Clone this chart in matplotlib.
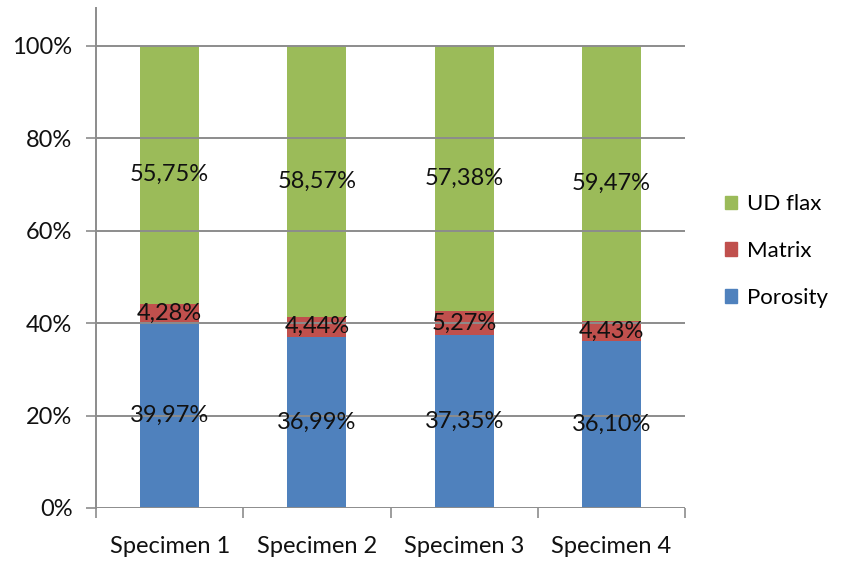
import matplotlib
matplotlib.use("Agg")
import matplotlib.pyplot as plt
from matplotlib.patches import Patch
import numpy as np

categories = ["Specimen 1", "Specimen 2", "Specimen 3", "Specimen 4"]
porosity = [39.97, 36.99, 37.35, 36.10]
matrix = [4.28, 4.44, 5.27, 4.43]
ud_flax = [55.75, 58.57, 57.38, 59.47]
series_names = ["Porosity", "Matrix", "UD flax"]
colors = ["#4F81BD", "#C0504D", "#9BBB59"]

plt.rcParams['font.family'] = ['Lato', 'DejaVu Sans']

fig = plt.figure(figsize=(8.41, 5.61), dpi=100)
ax = fig.add_axes([96/841, 1-508/561, (685-96)/841, 500/561])

FS = 17
TXT = "#111111"

x = np.arange(len(categories))
width = 0.4
bottom = np.zeros(len(categories))
series = [porosity, matrix, ud_flax]
for vals, name, c in zip(series, series_names, colors):
    v = np.array(vals) / 100.0
    ax.bar(x, v, width, bottom=bottom, color=c, label=name, zorder=2)
    for xi, b, vi, raw in zip(x, bottom, v, vals):
        ax.text(xi, b + vi/2, f"{raw:.2f}%".replace(".", ","), ha="center", va="center",
                fontsize=FS, color=TXT, zorder=4)
    bottom += v

ax.set_xlim(-0.5, len(categories) - 0.5)
ax.set_ylim(0, 1.082)
yt = np.arange(0, 1.01, 0.2)
ax.set_yticks(yt)
ax.set_yticklabels([f"{int(round(t*100))}%" for t in yt], fontsize=FS, color=TXT)
for t in yt:
    ax.axhline(t, color="#8c8c8c", lw=1.4, zorder=3, xmin=0, xmax=1)
ax.set_xticks(x)
ax.set_xticklabels(categories, fontsize=FS, color=TXT)
ax.tick_params(axis="x", length=0, pad=20)
ax.set_xticks(np.arange(-0.5, len(categories)), minor=True)
ax.tick_params(axis="x", which="minor", length=7, width=1.2, color="#8c8c8c")
ax.tick_params(axis="y", length=7, width=1.2, color="#8c8c8c", pad=10)

for s in ["top", "right", "bottom"]:
    ax.spines[s].set_visible(False)
ax.spines["left"].set_color("#8c8c8c")
ax.spines["left"].set_linewidth(1.4)

handles = [Patch(color=colors[2], label="UD flax"),
           Patch(color=colors[1], label="Matrix"),
           Patch(color=colors[0], label="Porosity")]
fig.legend(handles=handles, loc="center left", bbox_to_anchor=(714/841, 1-251/561),
           frameon=False, fontsize=16, handlelength=0.55, handleheight=0.55,
           handletextpad=0.45, labelspacing=1.2, borderpad=0.0)

fig.savefig("out.png", dpi=100)
